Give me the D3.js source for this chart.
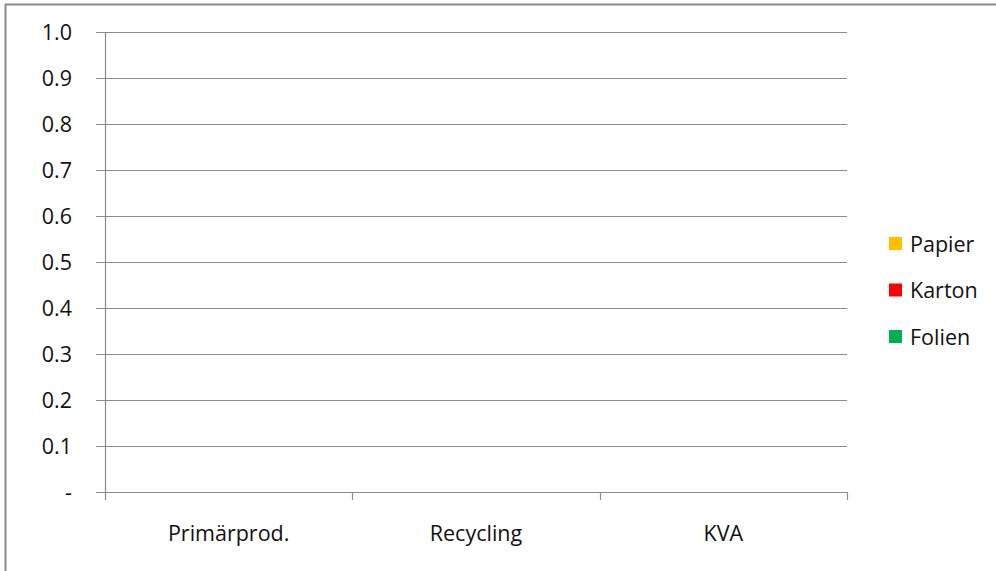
<!DOCTYPE html>
<html>
<head>
<meta charset="utf-8">
<script src="https://cdn.jsdelivr.net/npm/d3@7"></script>
<style>
  body { margin: 0; background: #fff; }
  svg { display: block; font-family: "Open Sans", sans-serif; }
</style>
</head>
<body>
<svg id="chart" width="996" height="571"></svg>
<script>
// chart data (all series are empty in the source)
var categories = ["Primärprod.", "Recycling", "KVA"];
var seriesNames = ["Papier", "Karton", "Folien"];
var papier = [0, 0, 0];
var karton = [0, 0, 0];
var folien = [0, 0, 0];
var yTicks = [0, 0.1, 0.2, 0.3, 0.4, 0.5, 0.6, 0.7, 0.8, 0.9, 1.0];

var seriesColors = ["#ffc000", "#ff0000", "#00b050"];

var svg = d3.select("#chart");
var margin = { top: 32, right: 149, bottom: 79, left: 105 };
var width = 996 - margin.left - margin.right;
var height = 571 - margin.top - margin.bottom;
var fontSize = 21.5;

// outer frame
svg.append("path")
  .attr("d", "M5.5,571 V4.5 H996")
  .attr("fill", "none")
  .attr("stroke", "#8c8c8c")
  .attr("stroke-width", 2);

var g = svg.append("g")
  .attr("transform", `translate(${margin.left},${margin.top})`);

var x = d3.scaleBand()
  .domain(categories)
  .range([0, width])
  .paddingInner(0.5)
  .paddingOuter(0.25);

var xBand = d3.scaleBand()
  .domain(categories)
  .range([0, width]);

var y = d3.scaleLinear()
  .domain([0, 1])
  .range([height, 0]);

// gridlines
g.append("g")
  .selectAll("line")
  .data(yTicks)
  .join("line")
  .attr("x1", -9)
  .attr("x2", width)
  .attr("y1", d => Math.round(y(d)) + 0.5)
  .attr("y2", d => Math.round(y(d)) + 0.5)
  .attr("stroke", "#8c8c8c")
  .attr("stroke-width", 1.2);

// y axis labels
g.append("g")
  .selectAll("text")
  .data(yTicks)
  .join("text")
  .attr("x", -33)
  .attr("y", d => y(d))
  .attr("dy", "0.35em")
  .attr("text-anchor", "end")
  .attr("font-size", fontSize)
  .attr("fill", "#111")
  .text(d => d === 0 ? "-" : d3.format(".1f")(d));

// y axis line
g.append("line")
  .attr("x1", 0.5).attr("x2", 0.5)
  .attr("y1", 0).attr("y2", height)
  .attr("stroke", "#8c8c8c")
  .attr("stroke-width", 1.2);

// x axis ticks between categories
var xTickPos = [0].concat(categories.map(c => xBand(c) + xBand.bandwidth()));
g.append("g")
  .selectAll("line")
  .data(xTickPos)
  .join("line")
  .attr("x1", d => Math.round(d) + 0.5)
  .attr("x2", d => Math.round(d) + 0.5)
  .attr("y1", height)
  .attr("y2", height + 8)
  .attr("stroke", "#8c8c8c")
  .attr("stroke-width", 1.2);

g.append("g")
  .selectAll("text")
  .data(categories)
  .join("text")
  .attr("x", d => xBand(d) + xBand.bandwidth() / 2)
  .attr("y", height + 41)
  .attr("dy", "0.35em")
  .attr("text-anchor", "middle")
  .attr("font-size", fontSize)
  .attr("fill", "#111")
  .text(d => d);

// stacked bars (zero height, values are empty)
var rows = categories.map((c, i) => ({ cat: c, Papier: papier[i], Karton: karton[i], Folien: folien[i] }));
var stack = d3.stack().keys(seriesNames)(rows);
g.append("g")
  .selectAll("g")
  .data(stack)
  .join("g")
  .attr("fill", (d, i) => seriesColors[i])
  .selectAll("rect")
  .data(d => d)
  .join("rect")
  .attr("x", d => x(d.data.cat))
  .attr("width", x.bandwidth())
  .attr("y", d => y(d[1]))
  .attr("height", d => y(d[0]) - y(d[1]));

// legend
var legend = svg.append("g")
  .attr("transform", "translate(889,237)");
var item = legend.selectAll("g")
  .data(seriesNames)
  .join("g")
  .attr("transform", (d, i) => `translate(0,${i * 46.5})`);
item.append("rect")
  .attr("width", 13)
  .attr("height", 13)
  .attr("fill", (d, i) => seriesColors[i]);
item.append("text")
  .attr("x", 21)
  .attr("y", 7)
  .attr("dy", "0.35em")
  .attr("font-size", fontSize)
  .attr("fill", "#111")
  .text(d => d);
</script>
</body>
</html>
